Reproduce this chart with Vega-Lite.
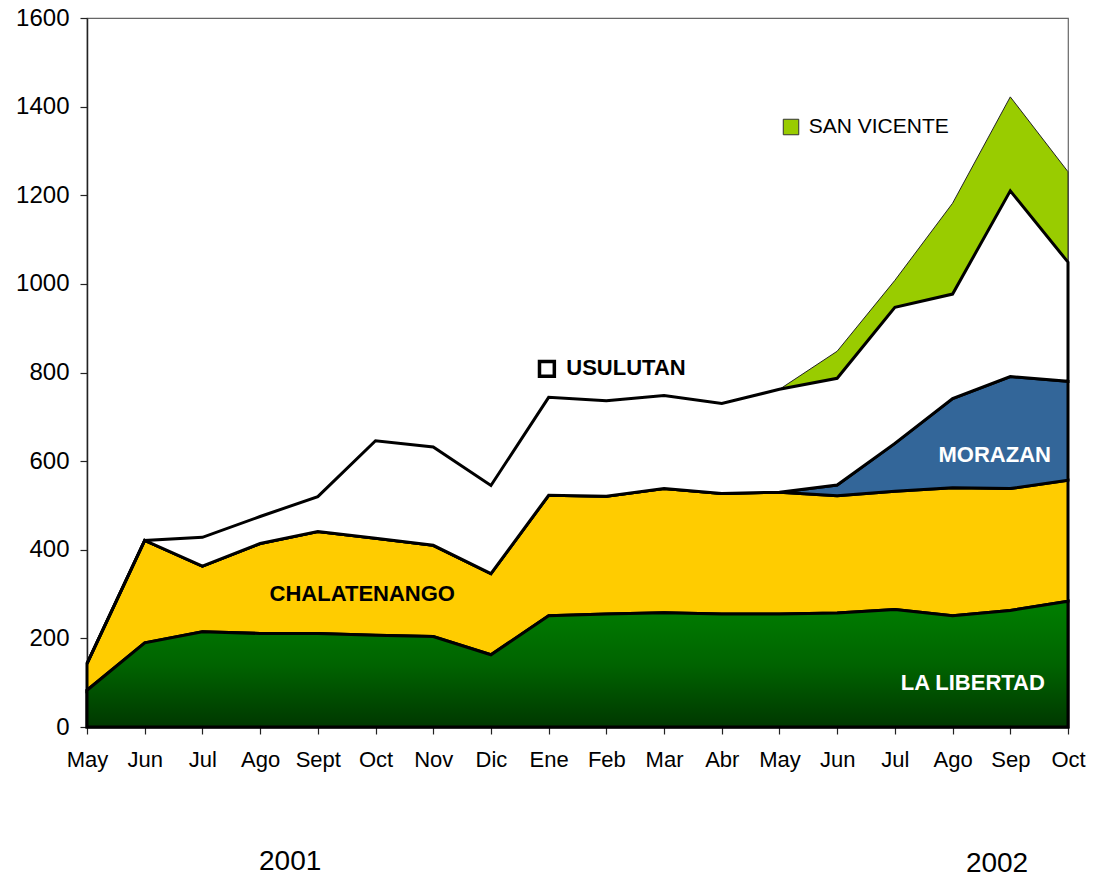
{
  "$schema": "https://vega.github.io/schema/vega-lite/v6.json",
  "width": 981,
  "height": 709,
  "autosize": {"type": "none"},
  "padding": {"left": 87, "top": 18, "right": 25, "bottom": 153},
  "background": "white",
  "config": {
    "font": "Liberation Sans",
    "view": {"stroke": "#666666", "strokeWidth": 1.2},
    "axis": {"grid": false, "title": null, "labelFont": "Liberation Sans", "labelColor": "black", "tickColor": "#222222", "domainColor": "#222222", "tickSize": 7, "domainWidth": 1.5, "tickWidth": 1.2}
  },
  "datasets": {
    "ventas": [
      {"i": 0, "mes": "May", "region": "LA LIBERTAD", "value": 83},
      {"i": 1, "mes": "Jun", "region": "LA LIBERTAD", "value": 190},
      {"i": 2, "mes": "Jul", "region": "LA LIBERTAD", "value": 215},
      {"i": 3, "mes": "Ago", "region": "LA LIBERTAD", "value": 211},
      {"i": 4, "mes": "Sept", "region": "LA LIBERTAD", "value": 211},
      {"i": 5, "mes": "Oct", "region": "LA LIBERTAD", "value": 207},
      {"i": 6, "mes": "Nov", "region": "LA LIBERTAD", "value": 204},
      {"i": 7, "mes": "Dic", "region": "LA LIBERTAD", "value": 163},
      {"i": 8, "mes": "Ene", "region": "LA LIBERTAD", "value": 251},
      {"i": 9, "mes": "Feb", "region": "LA LIBERTAD", "value": 255},
      {"i": 10, "mes": "Mar", "region": "LA LIBERTAD", "value": 258},
      {"i": 11, "mes": "Abr", "region": "LA LIBERTAD", "value": 255},
      {"i": 12, "mes": "May", "region": "LA LIBERTAD", "value": 255},
      {"i": 13, "mes": "Jun", "region": "LA LIBERTAD", "value": 257},
      {"i": 14, "mes": "Jul", "region": "LA LIBERTAD", "value": 265},
      {"i": 15, "mes": "Ago", "region": "LA LIBERTAD", "value": 251},
      {"i": 16, "mes": "Sep", "region": "LA LIBERTAD", "value": 263},
      {"i": 17, "mes": "Oct", "region": "LA LIBERTAD", "value": 284},
      {"i": 0, "mes": "May", "region": "CHALATENANGO", "value": 60},
      {"i": 1, "mes": "Jun", "region": "CHALATENANGO", "value": 231},
      {"i": 2, "mes": "Jul", "region": "CHALATENANGO", "value": 148},
      {"i": 3, "mes": "Ago", "region": "CHALATENANGO", "value": 203},
      {"i": 4, "mes": "Sept", "region": "CHALATENANGO", "value": 230},
      {"i": 5, "mes": "Oct", "region": "CHALATENANGO", "value": 219},
      {"i": 6, "mes": "Nov", "region": "CHALATENANGO", "value": 206},
      {"i": 7, "mes": "Dic", "region": "CHALATENANGO", "value": 183},
      {"i": 8, "mes": "Ene", "region": "CHALATENANGO", "value": 272},
      {"i": 9, "mes": "Feb", "region": "CHALATENANGO", "value": 266},
      {"i": 10, "mes": "Mar", "region": "CHALATENANGO", "value": 280},
      {"i": 11, "mes": "Abr", "region": "CHALATENANGO", "value": 272},
      {"i": 12, "mes": "May", "region": "CHALATENANGO", "value": 275},
      {"i": 13, "mes": "Jun", "region": "CHALATENANGO", "value": 265},
      {"i": 14, "mes": "Jul", "region": "CHALATENANGO", "value": 267},
      {"i": 15, "mes": "Ago", "region": "CHALATENANGO", "value": 289},
      {"i": 16, "mes": "Sep", "region": "CHALATENANGO", "value": 275},
      {"i": 17, "mes": "Oct", "region": "CHALATENANGO", "value": 273},
      {"i": 0, "mes": "May", "region": "MORAZAN", "value": 0},
      {"i": 1, "mes": "Jun", "region": "MORAZAN", "value": 0},
      {"i": 2, "mes": "Jul", "region": "MORAZAN", "value": 0},
      {"i": 3, "mes": "Ago", "region": "MORAZAN", "value": 0},
      {"i": 4, "mes": "Sept", "region": "MORAZAN", "value": 0},
      {"i": 5, "mes": "Oct", "region": "MORAZAN", "value": 0},
      {"i": 6, "mes": "Nov", "region": "MORAZAN", "value": 0},
      {"i": 7, "mes": "Dic", "region": "MORAZAN", "value": 0},
      {"i": 8, "mes": "Ene", "region": "MORAZAN", "value": 0},
      {"i": 9, "mes": "Feb", "region": "MORAZAN", "value": 0},
      {"i": 10, "mes": "Mar", "region": "MORAZAN", "value": 0},
      {"i": 11, "mes": "Abr", "region": "MORAZAN", "value": 0},
      {"i": 12, "mes": "May", "region": "MORAZAN", "value": 0},
      {"i": 13, "mes": "Jun", "region": "MORAZAN", "value": 24},
      {"i": 14, "mes": "Jul", "region": "MORAZAN", "value": 108},
      {"i": 15, "mes": "Ago", "region": "MORAZAN", "value": 201},
      {"i": 16, "mes": "Sep", "region": "MORAZAN", "value": 253},
      {"i": 17, "mes": "Oct", "region": "MORAZAN", "value": 223},
      {"i": 0, "mes": "May", "region": "USULUTAN", "value": 0},
      {"i": 1, "mes": "Jun", "region": "USULUTAN", "value": 0},
      {"i": 2, "mes": "Jul", "region": "USULUTAN", "value": 65},
      {"i": 3, "mes": "Ago", "region": "USULUTAN", "value": 61},
      {"i": 4, "mes": "Sept", "region": "USULUTAN", "value": 79},
      {"i": 5, "mes": "Oct", "region": "USULUTAN", "value": 220},
      {"i": 6, "mes": "Nov", "region": "USULUTAN", "value": 222},
      {"i": 7, "mes": "Dic", "region": "USULUTAN", "value": 199},
      {"i": 8, "mes": "Ene", "region": "USULUTAN", "value": 221},
      {"i": 9, "mes": "Feb", "region": "USULUTAN", "value": 215},
      {"i": 10, "mes": "Mar", "region": "USULUTAN", "value": 210},
      {"i": 11, "mes": "Abr", "region": "USULUTAN", "value": 203},
      {"i": 12, "mes": "May", "region": "USULUTAN", "value": 232},
      {"i": 13, "mes": "Jun", "region": "USULUTAN", "value": 241},
      {"i": 14, "mes": "Jul", "region": "USULUTAN", "value": 307},
      {"i": 15, "mes": "Ago", "region": "USULUTAN", "value": 236},
      {"i": 16, "mes": "Sep", "region": "USULUTAN", "value": 419},
      {"i": 17, "mes": "Oct", "region": "USULUTAN", "value": 269},
      {"i": 0, "mes": "May", "region": "SAN VICENTE", "value": 0},
      {"i": 1, "mes": "Jun", "region": "SAN VICENTE", "value": 0},
      {"i": 2, "mes": "Jul", "region": "SAN VICENTE", "value": 0},
      {"i": 3, "mes": "Ago", "region": "SAN VICENTE", "value": 0},
      {"i": 4, "mes": "Sept", "region": "SAN VICENTE", "value": 0},
      {"i": 5, "mes": "Oct", "region": "SAN VICENTE", "value": 0},
      {"i": 6, "mes": "Nov", "region": "SAN VICENTE", "value": 0},
      {"i": 7, "mes": "Dic", "region": "SAN VICENTE", "value": 0},
      {"i": 8, "mes": "Ene", "region": "SAN VICENTE", "value": 0},
      {"i": 9, "mes": "Feb", "region": "SAN VICENTE", "value": 0},
      {"i": 10, "mes": "Mar", "region": "SAN VICENTE", "value": 0},
      {"i": 11, "mes": "Abr", "region": "SAN VICENTE", "value": 0},
      {"i": 12, "mes": "May", "region": "SAN VICENTE", "value": 0},
      {"i": 13, "mes": "Jun", "region": "SAN VICENTE", "value": 61},
      {"i": 14, "mes": "Jul", "region": "SAN VICENTE", "value": 61},
      {"i": 15, "mes": "Ago", "region": "SAN VICENTE", "value": 205},
      {"i": 16, "mes": "Sep", "region": "SAN VICENTE", "value": 212},
      {"i": 17, "mes": "Oct", "region": "SAN VICENTE", "value": 204}
    ]
  },
  "layer": [
    {
      "data": {"name": "ventas"},
      "transform": [
        {"calculate": "indexof(['LA LIBERTAD','CHALATENANGO','MORAZAN','USULUTAN','SAN VICENTE'], datum.region)", "as": "orden"},
        {"stack": "value", "groupby": ["i"], "sort": [{"field": "orden", "order": "ascending"}], "as": ["v0", "v1"]},
        {"filter": "datum.region === 'SAN VICENTE'"}
      ],
      "mark": {"type": "area", "stroke": "#222222", "strokeWidth": 1, "opacity": 1, "fill": "#99CC00"},
      "encoding": {
        "x": {
          "field": "i", "type": "quantitative",
          "scale": {"domain": [0, 17], "nice": false, "zero": false},
          "axis": {
            "values": [0,1,2,3,4,5,6,7,8,9,10,11,12,13,14,15,16,17],
            "labelExpr": "['May','Jun','Jul','Ago','Sept','Oct','Nov','Dic','Ene','Feb','Mar','Abr','May','Jun','Jul','Ago','Sep','Oct'][datum.value]",
            "labelFontSize": 22, "labelPadding": 15, "labelFlush": false, "labelOverlap": false, "domainColor": "black"
          }
        },
        "y": {
          "field": "v1", "type": "quantitative",
          "scale": {"domain": [0, 1600], "nice": false},
          "axis": {"values": [0,200,400,600,800,1000,1200,1400,1600], "format": "d", "labelFontSize": 24, "labelPadding": 11}
        },
        "y2": {"field": "v0"}
      }
    },
    {
      "data": {"name": "ventas"},
      "transform": [
        {"calculate": "indexof(['LA LIBERTAD','CHALATENANGO','MORAZAN','USULUTAN','SAN VICENTE'], datum.region)", "as": "orden"},
        {"stack": "value", "groupby": ["i"], "sort": [{"field": "orden", "order": "ascending"}], "as": ["v0", "v1"]},
        {"filter": "datum.region !== 'SAN VICENTE'"}
      ],
      "mark": {"type": "area", "stroke": "black", "strokeWidth": 3, "opacity": 1},
      "encoding": {
        "x": {"field": "i", "type": "quantitative"},
        "y": {"field": "v1", "type": "quantitative"},
        "y2": {"field": "v0"},
        "color": {
          "field": "region", "type": "nominal",
          "scale": {"domain": ["LA LIBERTAD","CHALATENANGO","MORAZAN","USULUTAN","SAN VICENTE"], "range": ["#007800","#FFCC00","#336699","#FFFFFF","#99CC00"]},
          "legend": null
        },
        "order": {"field": "orden", "type": "quantitative"}
      }
    },
    {
      "data": {"name": "ventas"},
      "transform": [{"filter": "datum.region === 'LA LIBERTAD'"}],
      "mark": {
        "type": "area", "stroke": "black", "strokeWidth": 3, "opacity": 1,
        "fill": {"gradient": "linear", "x1": 0, "y1": 0, "x2": 0, "y2": 1,
          "stops": [{"offset": 0, "color": "#007F00"}, {"offset": 0.5, "color": "#006400"}, {"offset": 1, "color": "#003800"}]}
      },
      "encoding": {
        "x": {"field": "i", "type": "quantitative"},
        "y": {"field": "value", "type": "quantitative", "stack": null}
      }
    },
    {
      "data": {"values": [{"texto": "CHALATENANGO", "i": 4.77, "value": 300}, {"texto": "USULUTAN", "i": 9.34, "value": 810}]},
      "mark": {"type": "text", "fontWeight": "bold", "fontSize": 22, "color": "black", "baseline": "middle", "align": "center"},
      "encoding": {"x": {"field": "i", "type": "quantitative"}, "y": {"field": "value", "type": "quantitative"}, "text": {"field": "texto"}}
    },
    {
      "data": {"values": [{"texto": "MORAZAN", "i": 15.73, "value": 614}, {"texto": "LA LIBERTAD", "i": 15.35, "value": 99}]},
      "mark": {"type": "text", "fontWeight": "bold", "fontSize": 22, "color": "white", "baseline": "middle", "align": "center"},
      "encoding": {"x": {"field": "i", "type": "quantitative"}, "y": {"field": "value", "type": "quantitative"}, "text": {"field": "texto"}}
    },
    {
      "data": {"values": [{"texto": "SAN VICENTE", "i": 13.72, "value": 1354}]},
      "mark": {"type": "text", "fontSize": 21, "color": "black", "baseline": "middle", "align": "center"},
      "encoding": {"x": {"field": "i", "type": "quantitative"}, "y": {"field": "value", "type": "quantitative"}, "text": {"field": "texto"}}
    },
    {
      "data": {"values": [{"texto": "2001", "i": 3.52, "value": -305}, {"texto": "2002", "i": 15.77, "value": -310}]},
      "mark": {"type": "text", "fontSize": 28, "color": "black", "baseline": "middle", "align": "center"},
      "encoding": {"x": {"field": "i", "type": "quantitative"}, "y": {"field": "value", "type": "quantitative"}, "text": {"field": "texto"}}
    },
    {
      "data": {"values": [{"region": "USULUTAN", "i": 7.97, "value": 808}]},
      "mark": {"type": "square", "size": 220, "filled": true, "fill": "white", "stroke": "black", "strokeWidth": 3.5, "opacity": 1},
      "encoding": {"x": {"field": "i", "type": "quantitative"}, "y": {"field": "value", "type": "quantitative"}}
    },
    {
      "data": {"values": [{"region": "SAN VICENTE", "i": 12.2, "value": 1354}]},
      "mark": {"type": "square", "size": 240, "filled": true, "fill": "#99CC00", "stroke": "#333333", "strokeWidth": 1, "opacity": 1},
      "encoding": {"x": {"field": "i", "type": "quantitative"}, "y": {"field": "value", "type": "quantitative"}}
    }
  ]
}
